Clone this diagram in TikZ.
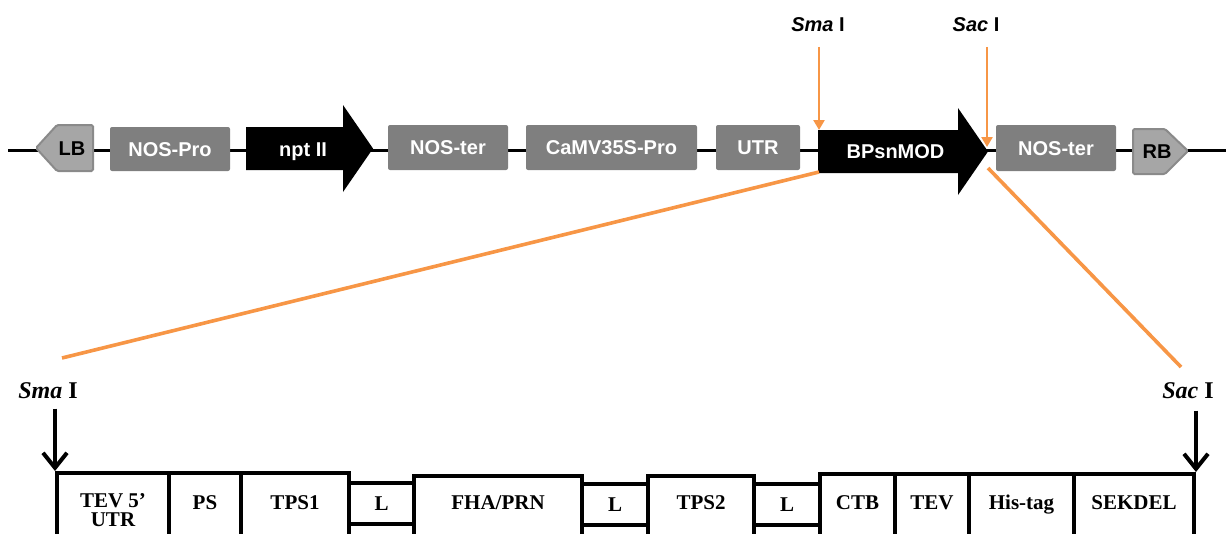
\documentclass[tikz,border=0pt]{standalone}
\usepackage{fontspec}
\setmainfont{Liberation Serif}
\setsansfont{Liberation Sans}
\usetikzlibrary{arrows.meta,calc}

\definecolor{elemgray}{HTML}{7F7F7F}
\definecolor{bordfill}{HTML}{A6A6A6}
\definecolor{bordline}{HTML}{8A8A8A}
\definecolor{cutorange}{HTML}{F79646}

\begin{document}
\begin{tikzpicture}[x=1pt,y=-1pt,
  backbone/.style={line width=3pt, black},
  gbox/.style={fill=elemgray, rounded corners=2pt, inner sep=0pt,
    text=white, font=\sffamily\bfseries\fontsize{20}{24}\selectfont,
    text height=14.3pt, text depth=0pt},
  arrowtxt/.style={inner sep=0pt, text=white,
    font=\sffamily\bfseries\fontsize{20}{24}\selectfont,
    text height=14.3pt, text depth=0pt},
  bordtxt/.style={inner sep=0pt, text=black,
    font=\sffamily\bfseries\fontsize{20}{24}\selectfont,
    text height=14.3pt, text depth=0pt},
  bordshape/.style={fill=bordfill, draw=bordline, line width=2pt, rounded corners=1.5pt},
  toplbl/.style={inner sep=0pt, font=\sffamily\bfseries\fontsize{20}{24}\selectfont,
    text height=14.3pt, text depth=0pt},
  sitelbl/.style={inner sep=0pt, font=\bfseries\fontsize{24}{28}\selectfont,
    text height=15.9pt, text depth=0pt},
  orarrow/.style={draw=cutorange, line width=2.6pt, -{Triangle[width=11pt,length=10pt]}},
  zoomline/.style={draw=cutorange, line width=3.6pt},
  cutarrow/.style={line width=4pt, -{Straight Barb[length=15pt,width=24pt]}},
  cell/.style={draw, line width=4pt, anchor=north west, inner sep=0pt,
    minimum height=80pt},
  lcell/.style={draw, line width=4pt, anchor=north west, inner sep=0pt,
    minimum height=41pt, font=\bfseries\fontsize{21}{24}\selectfont,
    text height=13.9pt, text depth=0pt},
  clbl/.style={inner sep=0pt, font=\bfseries\fontsize{21}{24}\selectfont,
    text height=13.9pt, text depth=0pt},
  clbltwo/.style={inner sep=0pt, align=center,
    font=\bfseries\fontsize{21}{19}\selectfont}
]
\useasboundingbox (0,0) rectangle (1226,533);
\clip (0,0) rectangle (1226,533);

% ---------------- T-DNA backbone ----------------
\coordinate (bbL) at (8,150);
\coordinate (bbR) at (1226,150);
\draw[backbone] (bbL) -- (bbR);

% left border
\path[bordshape] (36,148) -- (57,125) -- (93,125) -- (93,171) -- (57,171) -- cycle;
\node[bordtxt] (lb) at (72,148) {LB};

% gray elements
\node[gbox, minimum width=120pt, minimum height=44pt] (nospro) at (170,149) {NOS-Pro};
\node[gbox, minimum width=120pt, minimum height=45pt] (noster) at (448,147.5) {NOS-ter};
\node[gbox, minimum width=171pt, minimum height=45pt] (camv) at (611.5,147.5) {CaMV35S-Pro};
\node[gbox, minimum width=84pt, minimum height=45pt] (utr) at (758,147.5) {UTR};
\node[gbox, minimum width=120pt, minimum height=46pt] (nosterb) at (1056,148) {NOS-ter};

% npt II coding arrow
\fill[black] (246,127) -- (343,127) -- (343,105) -- (373,148.5) -- (343,192)
  -- (343,170) -- (246,170) -- cycle;
\node[arrowtxt] (npt) at (303,149) {npt II};

% BPsnMOD coding arrow
\fill[black] (818,130) -- (958,130) -- (958,108) -- (988,151.5) -- (958,195)
  -- (958,173) -- (818,173) -- cycle;
\node[arrowtxt] (bpsn) at (895.5,151.5) {BPsnMOD};

% right border
\path[bordshape] (1133,129) -- (1165,129) -- (1188,151) -- (1165,174) -- (1133,174) -- cycle;
\node[bordtxt] (rb) at (1157,151) {RB};

% restriction sites on the T-DNA
\node[toplbl] (smaT) at (818,24.5) {\textit{Sma} I};
\node[toplbl] (sacT) at (976,24.5) {\textit{Sac} I};
\coordinate (smaCut) at (819,130);
\coordinate (sacCut) at (987,147);
\draw[orarrow] ($(smaT.south -| smaCut)+(0,15)$) -- (smaCut);
\draw[orarrow] ($(sacT.south -| sacCut)+(0,15)$) -- (sacCut);

% ---------------- expanded cassette ----------------
\node[sitelbl] (smaB) at (48,390.5) {\textit{Sma} I};
\node[sitelbl] (sacB) at (1188,390.5) {\textit{Sac} I};

\node[cell, minimum width=112pt] (tev5) at (55,471) {};
\node[cell, minimum width=72pt]  (ps)   at (167,471) {};
\node[cell, minimum width=108pt] (tps1) at (239,471) {};
\node[lcell, minimum width=65pt] (l1)   at (347,481) {L};
\node[cell, minimum width=168pt] (fha)  at (412,474) {};
\node[lcell, minimum width=66pt] (l2)   at (580,482) {L};
\node[cell, minimum width=106pt] (tps2) at (646,474) {};
\node[lcell, minimum width=66pt] (l3)   at (752,482) {L};
\node[cell, minimum width=75pt]  (ctb)  at (818,472) {};
\node[cell, minimum width=74pt]  (tev)  at (893,472) {};
\node[cell, minimum width=105pt] (his)  at (967,472) {};
\node[cell, minimum width=120pt] (sek)  at (1072,472) {};

\coordinate (txtrow) at (0,503);
\node[clbltwo] (tev5t) at (tev5 |- 0,510) {TEV 5’\\UTR};
\node[clbl] (pst)   at (ps |- txtrow) {PS};
\node[clbl] (tps1t) at (tps1 |- txtrow) {TPS1};
\node[clbl] (fhat)  at (fha |- txtrow) {FHA/PRN};
\node[clbl] (tps2t) at (tps2 |- txtrow) {TPS2};
\node[clbl] (ctbt)  at (ctb |- txtrow) {CTB};
\node[clbl] (tevt)  at (tev |- txtrow) {TEV};
\node[clbl] (hist)  at (his |- txtrow) {His-tag};
\node[clbl] (sekt)  at (sek |- txtrow) {SEKDEL};

% cut-site arrows of the cassette
\draw[cutarrow] ($(smaB.south -| tev5.north west)+(0,10)$) -- (tev5.north west);
\draw[cutarrow] ($(sacB.south -| sek.north east)+(0,12)$) -- (sek.north east);

% zoom lines from the T-DNA insert to the cassette
\coordinate (zlA) at (819,172);
\coordinate (zlB) at (62,358);
\coordinate (zrA) at (988,168);
\coordinate (zrB) at (1181,367);
\draw[zoomline] (zlA) -- (zlB);
\draw[zoomline] (zrA) -- (zrB);
\end{tikzpicture}
\end{document}
